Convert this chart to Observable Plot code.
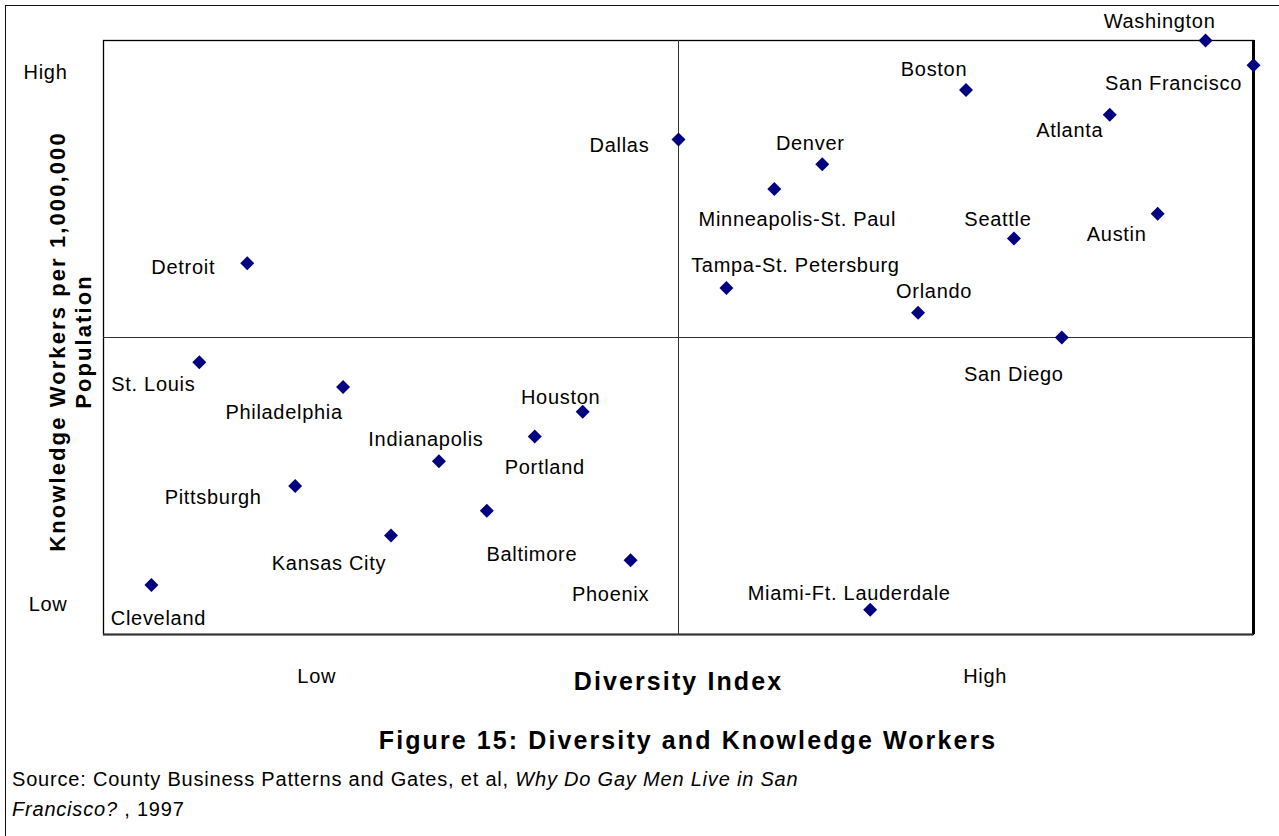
<!DOCTYPE html>
<html>
<head>
<meta charset="utf-8">
<script src="https://cdn.jsdelivr.net/npm/d3@7"></script>
<script src="https://cdn.jsdelivr.net/npm/@observablehq/plot@0.6"></script>
<style>
  html, body { margin: 0; padding: 0; background: #fff; width: 1279px; height: 836px; overflow: hidden; }
  body { position: relative; font-family: "Liberation Sans", Arial, sans-serif; color: #000; }
  #outer { position: absolute; left: 5px; top: 5px; width: 1320px; height: 900px; border: 1.5px solid #111; box-sizing: border-box; }
  #chart { position: absolute; left: 0; top: 0; }
  #title { position: absolute; left: 0; width: 1376px; top: 724px; text-align: center; font-weight: bold; font-size: 25px; letter-spacing: 2.1px; line-height: 32px; }
  #source { position: absolute; left: 12px; top: 764px; font-size: 20px; letter-spacing: 0.8px; line-height: 30px; }
</style>
</head>
<body>
<div id="outer"></div>
<div id="chart"></div>
<div id="title">Figure 15: Diversity and Knowledge Workers</div>
<div id="source">Source: County Business Patterns and Gates, et al, <i>Why Do Gay Men Live in San</i><br><i>Francisco?</i> , 1997</div>
<script>
const cities = ["Washington","San Francisco","Boston","Atlanta","Dallas","Denver","Minneapolis-St. Paul","Austin","Seattle","Detroit","Tampa-St. Petersburg","Orlando","San Diego","St. Louis","Philadelphia","Houston","Portland","Indianapolis","Pittsburgh","Baltimore","Kansas City","Phoenix","Cleveland","Miami-Ft. Lauderdale"];
const diversityRank = [23,24,18,21,12,15,14,22,19,3,13,17,20,2,5,10,9,7,4,8,6,11,1,16];
const knowledgeRank = [24,23,22,21,20,19,18,17,16,15,14,13,12,11,10,9,8,7,6,5,4,3,2,1];

// label placement relative to each point (pixels)
const labelDx = [-46,-80,-32,-40,-59,-12,23,-41,-16,-64,69,16,-48,-46,-59,-22,10,-13,-82,45,-62,-20,7,-21];
const labelDy = [-19,18,-20,16,6,-21,31,21,-19,4,-22,-21,37,22,26,-14,31,-22,12,44,28,34,34,-16];

const xTickValues = [4.45, 18.4];
const xTickLabels = ["Low", "High"];
const yTickValues = [22.7, 1.2];
const yTickLabels = ["High", "Low"];
const midValue = 12;

const data = cities.map((c, i) => ({city: c, x: diversityRank[i], y: knowledgeRank[i]}));

const chart = Plot.plot({
  width: 1279,
  height: 720,
  marginLeft: 103,
  marginRight: 26,
  marginTop: 40,
  marginBottom: 86,
  style: {fontFamily: "'Liberation Sans', Arial, sans-serif", fontSize: "20px", color: "#000", background: "transparent", overflow: "visible", letterSpacing: "0.7px"},
  x: {domain: [0, 24], ticks: xTickValues, tickFormat: d => xTickLabels[xTickValues.indexOf(d)], tickSize: 0, tickPadding: 34, label: null},
  y: {domain: [0, 24], ticks: yTickValues, tickFormat: d => yTickLabels[yTickValues.indexOf(d)], tickSize: 0, tickPadding: 36, label: null},
  marks: [
    Plot.frame({stroke: "#000", strokeWidth: 1.3}),
    Plot.ruleX([24], {stroke: "#000", strokeWidth: 3}),
    Plot.ruleY([0], {stroke: "#333", strokeWidth: 2}),
    Plot.ruleX([midValue], {stroke: "#333", strokeWidth: 1}),
    Plot.ruleY([midValue], {stroke: "#333", strokeWidth: 1}),
    ...data.map((d, i) => Plot.text([d], {x: "x", y: "y", text: "city", dx: labelDx[i], dy: labelDy[i], fontSize: 20, fill: "#000"})),
    Plot.dot(data, {x: "x", y: "y", symbol: "diamond2", r: 6.3, fill: "#000080", stroke: "none"}),
    Plot.text(["Diversity Index"], {frameAnchor: "bottom", dy: 55, fontSize: 25, fontWeight: "bold"}),
    Plot.text(["Knowledge Workers per 1,000,000\nPopulation"], {frameAnchor: "left", textAnchor: "middle", rotate: -90, dx: -34, dy: 4, fontSize: 22, fontWeight: "bold", lineHeight: 1.2})
  ]
});
document.getElementById("chart").appendChild(chart);
// bold axis titles get wider tracking like the reference
chart.querySelectorAll("g[font-weight='bold'] text, text[font-weight='bold']").forEach(t => {
  t.style.letterSpacing = "2.1px";
});
</script>
</body>
</html>
